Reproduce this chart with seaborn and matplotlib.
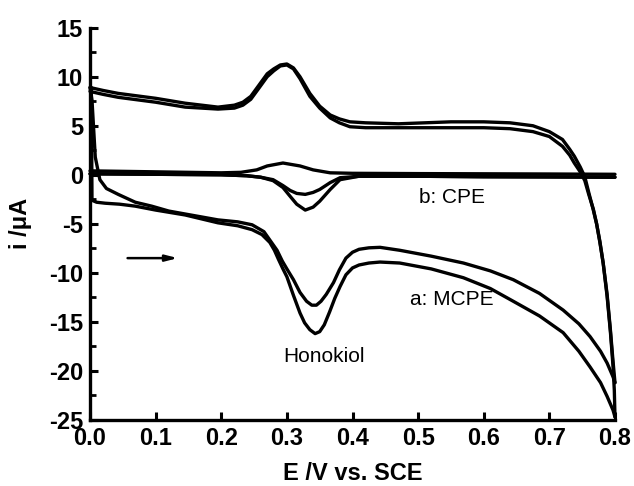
import numpy as np
import pandas as pd
import matplotlib
matplotlib.use("Agg")
import matplotlib.pyplot as plt
import seaborn as sns
from matplotlib.ticker import MultipleLocator

# ---------------- data ----------------
# MCPE, cycle 1 (outer loop): forward scan 0 -> 0.8 V
mcpe1_fwd_E = [0.002, 0.003, 0.010, 0.023, 0.045, 0.069, 0.100, 0.145, 0.195, 0.225, 0.247, 0.262,
               0.274, 0.281, 0.287, 0.294, 0.300, 0.310, 0.320, 0.327, 0.335, 0.343, 0.350, 0.357,
               0.365, 0.373, 0.381, 0.390, 0.400, 0.410, 0.425, 0.442, 0.472, 0.520, 0.569, 0.610,
               0.645, 0.685, 0.721, 0.745, 0.762, 0.778, 0.788, 0.797, 0.800]
mcpe1_fwd_i = [8.9, -2.6, -2.8, -2.9, -3.0, -3.2, -3.6, -4.1, -4.9, -5.2, -5.6, -6.1,
               -6.9, -7.7, -8.6, -9.6, -10.4, -12.3, -14.1, -15.1, -15.8, -16.2, -16.0, -15.3,
               -14.0, -12.6, -11.4, -10.2, -9.5, -9.2, -9.0, -8.9, -9.0, -9.6, -10.5, -11.6,
               -12.9, -14.4, -16.1, -18.0, -19.6, -21.2, -22.6, -24.0, -24.7]
# MCPE, cycle 1: reverse scan 0.8 -> 0 V
mcpe1_rev_E = [0.800, 0.799, 0.797, 0.793, 0.788, 0.782, 0.777, 0.772, 0.767, 0.760, 0.754, 0.747,
               0.738, 0.731, 0.720, 0.700, 0.675, 0.640, 0.600, 0.550, 0.470, 0.420, 0.396, 0.380,
               0.366, 0.350, 0.335, 0.320, 0.310, 0.300, 0.290, 0.280, 0.270, 0.257, 0.245, 0.233,
               0.220, 0.195, 0.145, 0.100, 0.043, 0.020, 0.000]
mcpe1_rev_i = [-24.7, -22.0, -19.5, -16.0, -12.4, -9.0, -6.9, -5.0, -3.6, -1.8, -0.2, 0.8,
               1.9, 2.6, 3.6, 4.4, 5.0, 5.3, 5.4, 5.4, 5.2, 5.3, 5.4, 5.7,
               6.1, 7.0, 8.3, 10.0, 10.9, 11.3, 11.2, 10.8, 10.3, 9.1, 8.0, 7.4,
               7.1, 6.9, 7.3, 7.8, 8.3, 8.6, 8.9]
# MCPE, cycle 2 (inner loop): forward scan
mcpe2_fwd_E = [0.000, 0.003, 0.008, 0.015, 0.025, 0.043, 0.069, 0.094, 0.120, 0.145, 0.195, 0.225,
               0.247, 0.265, 0.285, 0.293, 0.300, 0.310, 0.320, 0.330, 0.338, 0.345, 0.352, 0.360,
               0.371, 0.380, 0.390, 0.400, 0.410, 0.425, 0.442, 0.472, 0.520, 0.569, 0.610, 0.645,
               0.685, 0.721, 0.745, 0.762, 0.778, 0.788, 0.797, 0.800]
mcpe2_fwd_i = [8.9, 7.6, 1.8, -0.5, -1.4, -2.0, -2.8, -3.2, -3.7, -4.0, -4.6, -4.8,
               -5.1, -5.8, -7.7, -8.8, -9.6, -10.7, -12.0, -12.9, -13.3, -13.3, -12.9, -12.2,
               -11.0, -9.7, -8.5, -7.9, -7.6, -7.45, -7.4, -7.7, -8.3, -9.0, -9.8, -10.7,
               -12.1, -13.8, -15.2, -16.5, -18.0, -19.2, -20.6, -21.2]
# MCPE, cycle 2: reverse scan
mcpe2_rev_E = [0.800, 0.797, 0.793, 0.788, 0.782, 0.777, 0.772, 0.767, 0.760, 0.754, 0.747, 0.738,
               0.731, 0.720, 0.700, 0.675, 0.640, 0.600, 0.550, 0.470, 0.420, 0.396, 0.380, 0.366,
               0.350, 0.335, 0.320, 0.310, 0.300, 0.290, 0.280, 0.270, 0.257, 0.245, 0.233, 0.220,
               0.195, 0.145, 0.100, 0.043, 0.020, 0.000]
mcpe2_rev_i = [-21.2, -19.0, -15.8, -12.2, -9.0, -6.8, -5.0, -3.5, -2.0, -0.6, 0.3, 1.2,
               2.0, 2.9, 3.9, 4.4, 4.7, 4.8, 4.8, 4.8, 4.8, 4.9, 5.3, 5.8,
               6.8, 8.0, 9.8, 10.8, 11.2, 11.1, 10.6, 10.0, 8.8, 7.7, 7.1, 6.8,
               6.7, 6.9, 7.4, 7.9, 8.2, 8.5]
# CPE: forward scans (two cycles) and reverse scan
cpe_fwd_E = [0.000, 0.100, 0.200, 0.239, 0.260, 0.279, 0.294, 0.305, 0.315, 0.328, 0.340, 0.350,
             0.366, 0.381, 0.410, 0.500, 0.600, 0.700, 0.800]
cpe1_fwd_i = [0.1, 0.05, 0.0, -0.1, -0.25, -0.6, -1.3, -2.2, -3.0, -3.6, -3.3, -2.7,
              -1.5, -0.5, -0.15, -0.15, -0.2, -0.22, -0.25]
cpe2_fwd_i = [0.1, 0.05, 0.0, -0.1, -0.25, -0.5, -1.1, -1.6, -1.9, -2.0, -1.8, -1.5,
              -0.8, -0.3, -0.15, -0.15, -0.2, -0.22, -0.25]
cpe_rev_E = [0.800, 0.700, 0.600, 0.500, 0.400, 0.366, 0.340, 0.320, 0.294, 0.270, 0.254, 0.230,
             0.200, 0.100, 0.000]
cpe_rev_i = [0.05, 0.08, 0.10, 0.12, 0.15, 0.2, 0.5, 0.9, 1.2, 0.9, 0.5, 0.25,
             0.2, 0.3, 0.4]

x_ticks = [0.0, 0.1, 0.2, 0.3, 0.4, 0.5, 0.6, 0.7, 0.8]
y_ticks = [-25, -20, -15, -10, -5, 0, 5, 10, 15]

# ---------------- build long table ----------------
segments = [
    ("mcpe1_fwd", mcpe1_fwd_E, mcpe1_fwd_i),
    ("mcpe1_rev", mcpe1_rev_E, mcpe1_rev_i),
    ("mcpe2_fwd", mcpe2_fwd_E, mcpe2_fwd_i),
    ("mcpe2_rev", mcpe2_rev_E, mcpe2_rev_i),
    ("cpe1_fwd", cpe_fwd_E, cpe1_fwd_i),
    ("cpe2_fwd", cpe_fwd_E, cpe2_fwd_i),
    ("cpe_rev", cpe_rev_E, cpe_rev_i),
]
frames = []
for name, E, I in segments:
    frames.append(pd.DataFrame({"E": E, "i": I, "seg": name}))
df = pd.concat(frames, ignore_index=True)

# ---------------- plot ----------------
sns.set_style("ticks")
plt.rcParams["font.family"] = ["Liberation Sans", "DejaVu Sans"]
plt.rcParams["axes.unicode_minus"] = False
plt.rcParams["text.color"] = "black"
plt.rcParams["axes.labelcolor"] = "black"
plt.rcParams["xtick.color"] = "black"
plt.rcParams["ytick.color"] = "black"

fig = plt.figure(figsize=(6.34, 4.86), dpi=100)
ax = fig.add_axes([0.142, 0.136, 0.828, 0.807])

sns.lineplot(data=df, x="E", y="i", units="seg", estimator=None, sort=False,
             color="black", linewidth=2.4, ax=ax, legend=False)
for ln in ax.lines:
    ln.set_clip_on(False)
    ln.set_solid_capstyle("round")
    ln.set_solid_joinstyle("round")

ax.set_xlim(0.0, 0.8)
ax.set_ylim(-25, 15)
ax.set_xticks(x_ticks)
ax.set_xticklabels([f"{v:.1f}" for v in x_ticks])
ax.set_yticks(y_ticks)
ax.set_yticklabels([str(v) for v in y_ticks])
ax.yaxis.set_minor_locator(MultipleLocator(2.5))

for s in ["top", "right"]:
    ax.spines[s].set_visible(False)
for s in ["left", "bottom"]:
    ax.spines[s].set_linewidth(2.4)
    ax.spines[s].set_color("black")

ax.tick_params(which="major", direction="in", length=6, width=2.2,
               labelsize=17, pad=5, colors="black")
ax.tick_params(which="minor", direction="in", length=4.5, width=2.0, colors="black")
for lab in ax.get_xticklabels() + ax.get_yticklabels():
    lab.set_fontweight("bold")

ax.set_xlabel("E /V vs. SCE", fontsize=17, fontweight="bold", color="black")
ax.xaxis.label.set_va("baseline")
ax.xaxis.set_label_coords(0.5, -0.152)
ax.set_ylabel("i /\u03bcA", fontsize=17, fontweight="bold", color="black")
ax.yaxis.label.set_va("center")
ax.yaxis.set_label_coords(-0.133, 0.5)

ax.text(0.551, -2.9, "b: CPE", fontsize=15, ha="center", va="baseline", color="black")
ax.text(0.552, -13.3, "a: MCPE", fontsize=15, ha="center", va="baseline", color="black")
ax.text(0.356, -19.1, "Honokiol", fontsize=15, ha="center", va="baseline", color="black")
ax.annotate("", xy=(0.138, -8.5), xytext=(0.053, -8.5),
            arrowprops=dict(arrowstyle="-|>,head_length=0.7,head_width=0.18",
                            lw=1.8, color="black"))

fig.savefig("out.png", dpi=100)
